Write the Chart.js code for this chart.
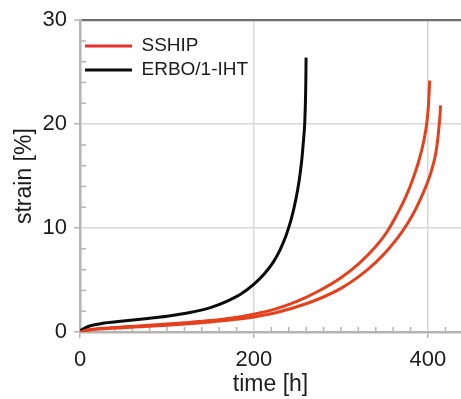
<!DOCTYPE html>
<html>
<head>
<meta charset="utf-8">
<script src="https://cdn.jsdelivr.net/npm/chart.js@4/dist/chart.umd.min.js"></script>
<style>
  html, body { margin: 0; padding: 0; background: #ffffff; }
  #wrap { width: 461px; height: 399px; position: relative; }
</style>
</head>
<body>
<div id="wrap"><canvas id="c" width="461" height="399"></canvas></div>
<script>
// ---- data ----
const seriesNames = ['SSHIP', 'ERBO/1-IHT'];

const hoursSshipA  = [0, 10, 25, 50, 75, 100, 125, 150, 175, 200, 225, 250, 275, 300, 320, 340, 353, 365, 375, 383, 390, 395, 398.5, 400.5, 402];
const strainSshipA = [0, 0.22, 0.35, 0.5, 0.62, 0.76, 0.92, 1.1, 1.35, 1.72, 2.22, 2.97, 3.97, 5.22, 6.52, 8.22, 9.65, 11.4, 13.1, 14.8, 16.6, 18.3, 20.0, 21.7, 24.2];

const hoursSshipB  = [0, 10, 25, 50, 75, 100, 125, 150, 175, 200, 225, 250, 275, 300, 320, 340, 355, 370, 382, 392, 400, 405, 409, 411.5, 413, 414, 414.5];
const strainSshipB = [0, 0.18, 0.3, 0.42, 0.53, 0.65, 0.8, 0.97, 1.18, 1.45, 1.85, 2.45, 3.2, 4.2, 5.3, 6.7, 8.0, 9.6, 11.2, 12.9, 14.5, 15.8, 17.2, 18.7, 20.0, 21.0, 21.8];

const hoursErbo  = [0, 5, 12, 25, 50, 75, 100, 125, 150, 170, 185, 200, 212, 222, 230, 237, 243, 248, 252, 255, 257, 258.3, 259.1, 259.6, 259.9];
const strainErbo = [0.1, 0.35, 0.6, 0.82, 1.05, 1.28, 1.52, 1.85, 2.35, 3.0, 3.65, 4.6, 5.6, 6.7, 7.9, 9.3, 10.9, 12.7, 14.6, 16.6, 18.5, 20.0, 22.0, 24.0, 26.4];

const xTickValues = [0, 200, 400];
const yTickValues = [0, 10, 20, 30];
const xRange = [0, 438];
const yRange = [0, 30];
const xMinorStep = 20;
const yMinorStep = 2;

// ---- styling ----
const RED = '#e5401c';
const RED_LEGEND = '#e8302a';
const BLACK = '#0b0b0b';
const FONT = "'Liberation Sans', Arial, sans-serif";
const TEXT = '#1c1c1c';
const AXIS = '#b3b3b3';
const GRID = '#d8d8d8';
const FRAME = '#6f6f6f';

const pts = (xs, ys) => xs.map((x, i) => ({ x: x, y: ys[i] }));

const minorTicks = {
  id: 'minorTicks',
  beforeDatasetsDraw(chart) {
    const { ctx, scales: { x, y }, chartArea } = chart;
    ctx.save();
    ctx.strokeStyle = AXIS;
    ctx.lineWidth = 1.5;
    ctx.beginPath();
    for (let v = xMinorStep; v < xRange[1]; v += xMinorStep) {
      if (xTickValues.includes(v)) continue;
      const px = x.getPixelForValue(v);
      ctx.moveTo(px, chartArea.bottom);
      ctx.lineTo(px, chartArea.bottom - 5);
    }
    for (let v = yMinorStep; v < yRange[1]; v += yMinorStep) {
      if (yTickValues.includes(v)) continue;
      const py = y.getPixelForValue(v);
      ctx.moveTo(chartArea.left, py);
      ctx.lineTo(chartArea.left + 6, py);
    }
    ctx.stroke();
    ctx.restore();
  }
};

new Chart(document.getElementById('c'), {
  type: 'line',
  data: {
    datasets: [
      { label: seriesNames[0], data: pts(hoursSshipA, strainSshipA), borderColor: RED, backgroundColor: RED_LEGEND },
      { label: seriesNames[1], data: pts(hoursErbo, strainErbo), borderColor: BLACK, backgroundColor: BLACK },
      { label: seriesNames[0] + ' (2)', data: pts(hoursSshipB, strainSshipB), borderColor: RED, backgroundColor: RED_LEGEND }
    ]
  },
  options: {
    responsive: false,
    animation: false,
    devicePixelRatio: 1,
    layout: { padding: { top: 17, right: 0, left: 0, bottom: 0 } },
    elements: {
      point: { radius: 0 },
      line: { borderWidth: 3, cubicInterpolationMode: 'monotone', fill: false, borderCapStyle: 'butt' }
    },
    plugins: {
      tooltip: { enabled: false },
      legend: {
        position: 'chartArea',
        align: 'start',
        title: { display: true, text: '', font: { size: 1 }, padding: { top: 30.3, bottom: 0 } },
        labels: {
          generateLabels: (chart) => Chart.defaults.plugins.legend.labels.generateLabels(chart).map(l => Object.assign(l, { lineWidth: 0 })),
          filter: (item) => item.datasetIndex !== 2,
          boxWidth: 47,
          boxHeight: 3,
          padding: 5,
          color: TEXT,
          font: { family: FONT, size: 19 }
        }
      }
    },
    scales: {
      x: {
        type: 'linear',
        min: xRange[0],
        max: xRange[1],
        afterBuildTicks: (s) => { s.ticks = xTickValues.map(v => ({ value: v })); },
        afterFit: (s) => { s.height = 67; },
        border: { display: true, color: AXIS, width: 2.5 },
        grid: { color: GRID, lineWidth: 1.5, drawTicks: true, tickLength: 6, tickColor: AXIS, tickWidth: 1.5 },
        ticks: { color: TEXT, font: { family: FONT, size: 22 }, padding: 9, maxRotation: 0 },
        title: { display: true, text: 'time [h]', color: TEXT, font: { family: FONT, size: 23 }, padding: { top: 0, bottom: 1 } }
      },
      y: {
        type: 'linear',
        min: yRange[0],
        max: yRange[1],
        afterBuildTicks: (s) => { s.ticks = yTickValues.map(v => ({ value: v })); },
        afterFit: (s) => { s.width = 80; },
        border: { display: true, color: AXIS, width: 2.5 },
        grid: {
          color: (c) => (c.tick && c.tick.value === yRange[1]) ? FRAME : GRID,
          lineWidth: (c) => (c.tick && c.tick.value === yRange[1]) ? 2.2 : 1.5,
          drawTicks: true, tickLength: 6, tickColor: AXIS, tickWidth: 1.5
        },
        ticks: { color: TEXT, font: { family: FONT, size: 22 }, padding: 7 },
        title: { display: true, text: 'strain [%]', color: TEXT, font: { family: FONT, size: 23 }, padding: { top: 11, bottom: 0 } }
      }
    }
  },
  plugins: [minorTicks]
});
</script>
</body>
</html>
